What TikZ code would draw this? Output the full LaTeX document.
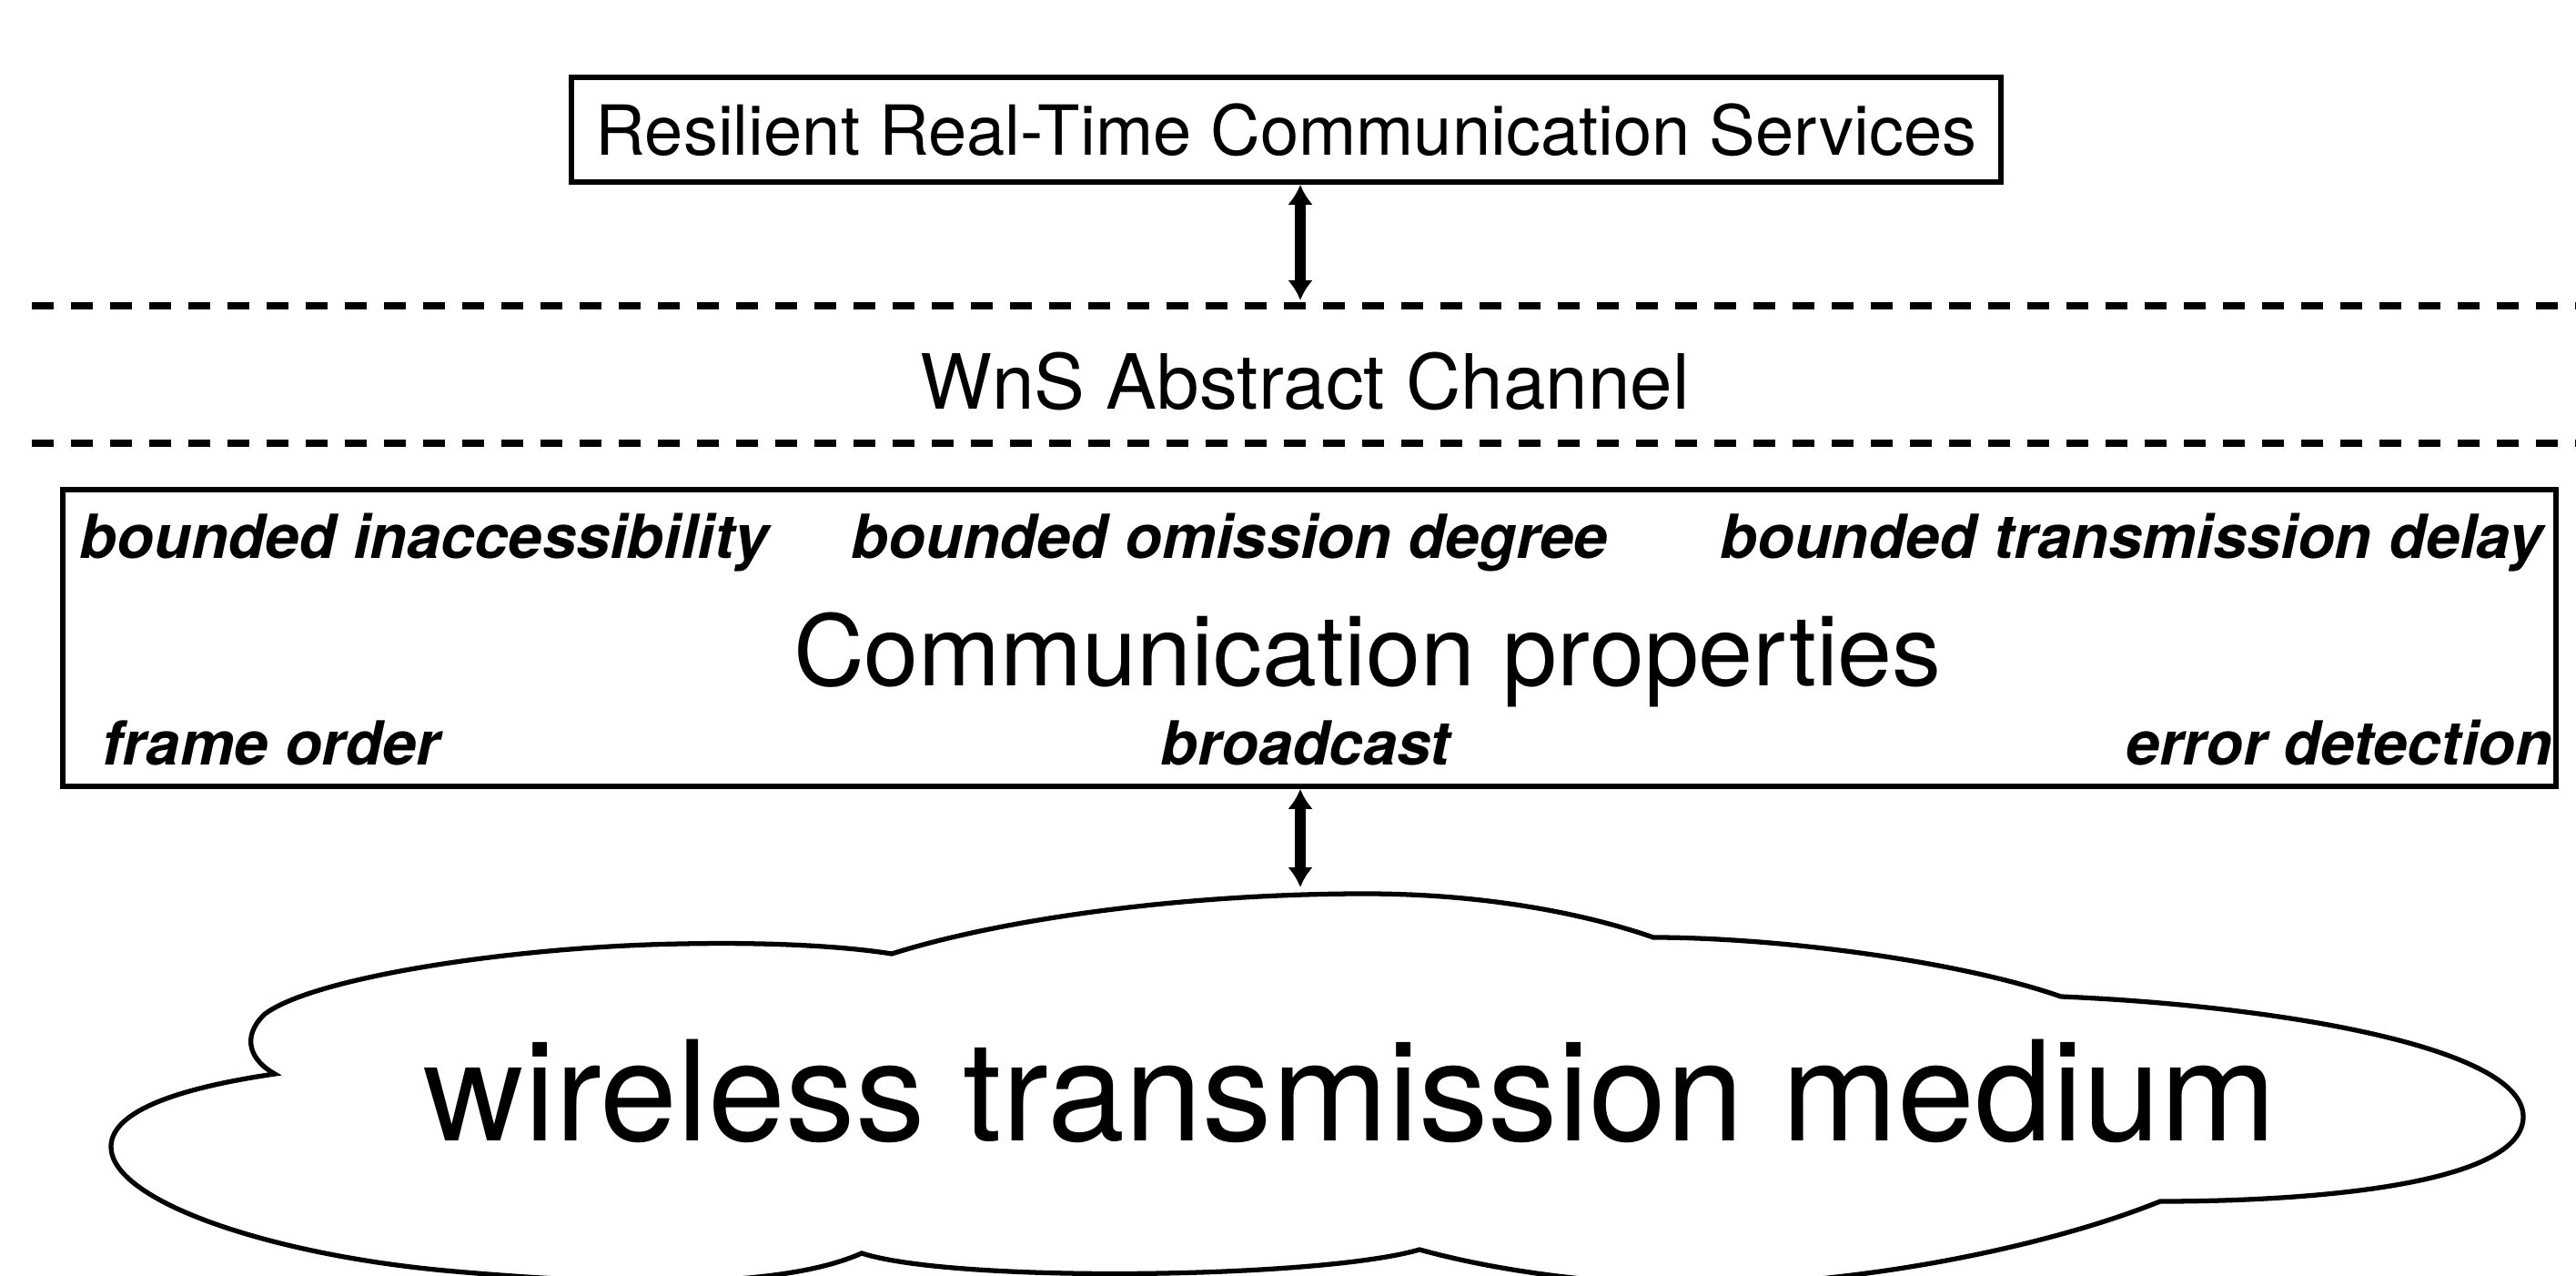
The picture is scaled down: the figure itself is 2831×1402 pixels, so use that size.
\documentclass[tikz,border=0pt]{standalone}
\usepackage{fontspec}
\setmainfont{TeX Gyre Heros}
\usepackage{tikz}
\usetikzlibrary{arrows.meta,positioning}

\begin{document}
\begin{tikzpicture}[x=0.1mm,y=-0.1mm,
  box/.style={draw, line width=1.6pt, inner sep=0pt},
  prop/.style={font=\fontsize{19pt}{22pt}\selectfont\bfseries\itshape, inner sep=0pt},
  sep/.style={line width=2pt, dash pattern=on 2.4mm off 1.9mm},
  biarrow/.style={{Latex[length=2.2mm,width=2.8mm]}-{Latex[length=2.2mm,width=2.8mm]}, line width=1.25mm},
  cloudline/.style={line width=1.5pt}]
\useasboundingbox (0,0) rectangle (2831,1402);
\clip (0,0) rectangle (2831,1402);

% services on top
\node[box, minimum width=157.1mm, minimum height=11.5mm, font=\fontsize{21.6pt}{24pt}\selectfont] (srv) at (1413.5,142.5) {Resilient Real-Time Communication Services};
\coordinate (ch1) at (1429,330);
\draw[biarrow] (srv.south -| ch1) -- (ch1);

% abstract channel
\coordinate (d1w) at (35,336);
\coordinate (d1e) at (2831,336);
\coordinate (d2w) at (35,487);
\coordinate (d2e) at (2831,487);
\draw[sep] (d1w) -- (d1e);
\draw[sep] (d2w) -- (d2e);
\node[inner sep=0pt, font=\fontsize{23.8pt}{26pt}\selectfont] (chan) at (1434,419) {WnS Abstract Channel};

% properties
\node[box, minimum width=274mm, minimum height=32.6mm] (props) at (1439,701) {};
\node[inner sep=0pt, anchor=base, font=\fontsize{30.7pt}{34pt}\selectfont] (cprop) at (1503,753) {Communication properties};
\node[prop, anchor=base west] (inacc) at (87,614) {bounded inaccessibility};
\node[prop, anchor=base west] (omis) at (935,614) {bounded omission degree};
\node[prop, anchor=base east] (delay) at (2795,614) {bounded transmission delay};
\node[prop, anchor=base west] (forder) at (112,841) {frame order};
\node[prop, anchor=base west] (bcast) at (1275,841) {broadcast};
\node[prop, anchor=base east] (errdet) at (2806,841) {error detection};

% medium
\coordinate (cl) at (1429,975);
\draw[biarrow] (props.south -| cl) -- (cl);
\draw[cloudline] (122,1260) .. controls (122,1215) and (220,1192) .. (302,1180)
  .. controls (275,1165) and (265,1140) .. (290,1115)
  .. controls (340,1075) and (560,1040) .. (750,1037)
  .. controls (850,1035) and (930,1040) .. (980,1048)
  .. controls (1100,1010) and (1300,982) .. (1500,982)
  .. controls (1650,982) and (1760,1010) .. (1817,1030)
  .. controls (1950,1030) and (2150,1055) .. (2265,1095)
  .. controls (2500,1105) and (2773,1150) .. (2773,1227)
  .. controls (2773,1300) and (2550,1320) .. (2374,1320)
  .. controls (2250,1370) and (2050,1410) .. (1880,1412)
  .. controls (1750,1412) and (1640,1395) .. (1560,1373)
  .. controls (1450,1405) and (1050,1410) .. (947,1377)
  .. controls (850,1420) and (650,1410) .. (500,1397)
  .. controls (300,1380) and (122,1320) .. (122,1260) -- cycle;
\node[inner sep=0pt, anchor=base, font=\fontsize{43.5pt}{48pt}\selectfont] (medium) at (1484,1253) {wireless transmission medium};
\end{tikzpicture}
\end{document}
